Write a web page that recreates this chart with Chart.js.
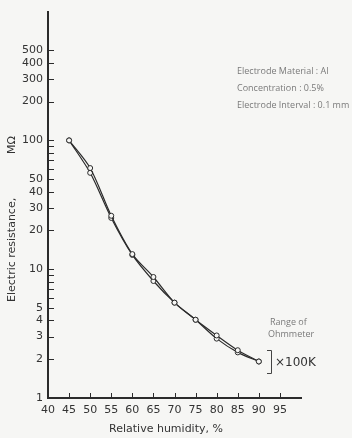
<!DOCTYPE html>
<html>
<head>
<meta charset="utf-8">
<script src="https://cdn.jsdelivr.net/npm/chart.js@4/dist/chart.umd.min.js"></script>
<style>
  html, body { margin: 0; padding: 0; background: #f6f6f4; }
  #wrap { width: 352px; height: 438px; }
</style>
</head>
<body>
<div id="wrap"><canvas id="humidityChart" width="352" height="438"></canvas></div>
<script>
// relative humidity (%) and resistance (MΩ)
const humidity = [45, 50, 55, 60, 65, 70, 75, 80, 85, 90];
const resistanceA = [100, 61, 26, 13.1, 8.7, 5.5, 4.05, 3.06, 2.35, 1.92];
const resistanceB = [100, 56, 25, 12.9, 8.1, 5.5, 4.05, 2.89, 2.26, 1.92];

const xTickValues = [40, 45, 50, 55, 60, 65, 70, 75, 80, 85, 90, 95];
const yTickValues = [1, 2, 3, 4, 5, 6, 7, 8, 9, 10, 20, 30, 40, 50, 60, 70, 80, 90, 100, 200, 300, 400, 500];
const yTickLabels = [1, 2, 3, 4, 5, 10, 20, 30, 40, 50, 100, 200, 300, 400, 500];

const notes = ['Electrode Material : Al', 'Concentration : 0.5%', 'Electrode Interval : 0.1 mm'];

const ink = '#2b2b2b';
const labelFont = { family: 'DejaVu Sans', size: 11 };

function toPoints(values) {
    return humidity.map((h, i) => ({ x: h, y: values[i] }));
}

const extras = {
    id: 'extras',
    afterDraw(chart) {
        const ctx = chart.ctx;
        const xs = chart.scales.x;
        const ys = chart.scales.y;
        const area = chart.chartArea;
        ctx.save();

        // tick marks point into the plot
        ctx.strokeStyle = ink;
        ctx.lineWidth = 1;
        ctx.beginPath();
        yTickValues.forEach(v => {
            if (v === 1) return;
            const py = Math.round(ys.getPixelForValue(v)) + 0.5;
            ctx.moveTo(area.left, py);
            ctx.lineTo(area.left + 6, py);
        });
        xTickValues.forEach(v => {
            if (v === 40) return;
            const px = Math.round(xs.getPixelForValue(v)) + 0.5;
            ctx.moveTo(px, area.bottom);
            ctx.lineTo(px, area.bottom - 5);
        });
        ctx.stroke();

        // axis titles
        ctx.fillStyle = '#333';
        ctx.font = '11px "DejaVu Sans"';
        ctx.textAlign = 'center';
        ctx.textBaseline = 'middle';
        ctx.fillText('Relative humidity, %', 166, 429);

        ctx.save();
        ctx.translate(12, 302);
        ctx.rotate(-Math.PI / 2);
        ctx.textAlign = 'left';
        ctx.fillText('Electric resistance,', 0, 0);
        ctx.textAlign = 'center';
        ctx.fillText('MΩ', 302 - 145, 0);
        ctx.restore();

        // notes at top right
        ctx.fillStyle = '#7a7a7a';
        ctx.font = '9px "Open Sans"';
        ctx.textAlign = 'left';
        notes.forEach((t, i) => ctx.fillText(t, 237, 71 + i * 17));

        ctx.fillText('Range of', 270, 322);
        ctx.fillText('Ohmmeter', 268, 334);

        // bracket and multiplier
        ctx.strokeStyle = '#444';
        ctx.beginPath();
        ctx.moveTo(267, 350.5);
        ctx.lineTo(271.5, 350.5);
        ctx.lineTo(271.5, 373.5);
        ctx.lineTo(267, 373.5);
        ctx.stroke();
        ctx.fillStyle = '#333';
        ctx.font = '12px "DejaVu Sans"';
        ctx.fillText('×100K', 275, 363);

        ctx.restore();
    }
};

const lineStyle = {
    borderColor: ink,
    borderWidth: 1.2,
    pointRadius: 2.5,
    pointBackgroundColor: '#f6f6f4',
    pointBorderColor: ink,
    pointBorderWidth: 1,
    tension: 0.3,
    fill: false
};

new Chart(document.getElementById('humidityChart'), {
    type: 'line',
    data: {
        datasets: [
            Object.assign({ label: 'Run 1', data: toPoints(resistanceA) }, lineStyle),
            Object.assign({ label: 'Run 2', data: toPoints(resistanceB) }, lineStyle)
        ]
    },
    options: {
        responsive: false,
        animation: false,
        layout: { padding: { left: 0, top: 5, right: 51, bottom: 0 } },
        plugins: {
            legend: { display: false },
            tooltip: { enabled: false }
        },
        scales: {
            x: {
                type: 'linear',
                min: 40,
                max: 100,
                afterFit: s => { s.height = 40; },
                afterBuildTicks: s => { s.ticks = xTickValues.map(v => ({ value: v })); },
                grid: { display: false, drawTicks: false },
                border: { display: true, color: ink, width: 2 },
                ticks: {
                    padding: 6,
                    autoSkip: false,
                    maxRotation: 0,
                    color: '#333',
                    font: labelFont
                }
            },
            y: {
                type: 'logarithmic',
                min: 1,
                max: 1000,
                afterFit: s => { s.width = 48; },
                afterBuildTicks: s => { s.ticks = yTickValues.map(v => ({ value: v })); },
                grid: { display: false, drawTicks: false },
                border: { display: true, color: ink, width: 2 },
                ticks: {
                    padding: 5,
                    autoSkip: false,
                    color: '#333',
                    font: labelFont,
                    callback: v => yTickLabels.includes(v) ? String(v) : ''
                }
            }
        }
    },
    plugins: [extras]
});
</script>
</body>
</html>
